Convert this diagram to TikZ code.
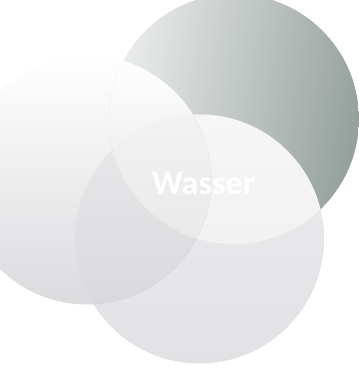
\documentclass[tikz,border=0pt]{standalone}
\usepackage{fontspec}
\setmainfont{Carlito}
\definecolor{trlight}{HTML}{ECEEED}
\definecolor{trdark}{HTML}{95A09B}
\definecolor{ltop}{HTML}{FFFFFF}
\definecolor{lbot}{HTML}{DBDADD}
\definecolor{btop}{HTML}{ECECEE}
\definecolor{bbot}{HTML}{E2E1E4}
\definecolor{bltop}{HTML}{EAEAEC}
\definecolor{blbot}{HTML}{D4D3D7}
\definecolor{btrtop}{HTML}{F6F6F6}
\definecolor{btrbot}{HTML}{EEEEEE}
\definecolor{alltop}{HTML}{F2F2F2}
\definecolor{allbot}{HTML}{E1E1E3}
\tikzset{
  faint/.style={draw=black, draw opacity=0.035, line width=0.5pt}
}
\begin{document}
\begin{tikzpicture}[x=1pt,y=-1pt]
\useasboundingbox (0,0) rectangle (359,368);
\coordinate (tr) at (234,119);
\coordinate (l) at (87,180);
\coordinate (b) at (199.5,239);
% top-right circle
\shade[left color=trlight, right color=trdark, shading angle=80] (tr) circle[radius=125pt];
% left circle
\shade[top color=ltop, bottom color=lbot] (l) circle[radius=124.5pt];
% faint edge of top-right circle inside left circle
\begin{scope}
  \clip (l) circle[radius=124.5pt];
  \draw[faint] (tr) circle[radius=125pt];
\end{scope}
% bottom circle
\shade[top color=btop, bottom color=bbot] (b) circle[radius=124.5pt];
% bottom & left
\begin{scope}
  \clip (l) circle[radius=124.5pt];
  \shade[top color=bltop, bottom color=blbot] (b) circle[radius=124.5pt];
\end{scope}
% bottom & top-right
\begin{scope}
  \clip (tr) circle[radius=125pt];
  \shade[top color=btrtop, bottom color=btrbot] (b) circle[radius=124.5pt];
\end{scope}
% all three
\begin{scope}
  \clip (tr) circle[radius=125pt];
  \clip (l) circle[radius=124.5pt];
  \shade[top color=alltop, bottom color=allbot] (b) circle[radius=124.5pt];
\end{scope}
% faint edge of left circle inside bottom circle
\begin{scope}
  \clip (b) circle[radius=124.5pt];
  \draw[faint] (l) circle[radius=124.5pt];
\end{scope}
\node[font=\bfseries\fontsize{34}{40}\selectfont, text=white, anchor=base, inner sep=0pt] (t) at (203.5,194) {Wasser};
\end{tikzpicture}
\end{document}
